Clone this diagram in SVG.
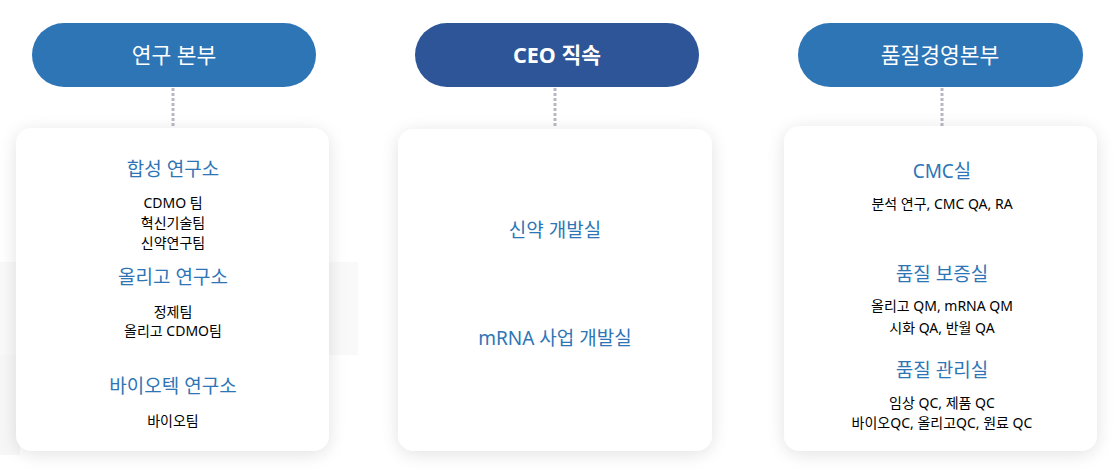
<svg xmlns="http://www.w3.org/2000/svg" width="1120" height="471" viewBox="0 0 1120 471">
<defs>
<filter id="shadow" x="-20%" y="-20%" width="140%" height="140%">
<feGaussianBlur in="SourceAlpha" stdDeviation="9"/>
<feOffset dx="0" dy="3" result="b"/>
<feComponentTransfer><feFuncA type="linear" slope="0.12"/></feComponentTransfer>
<feMerge><feMergeNode/><feMergeNode in="SourceGraphic"/></feMerge>
</filter>
</defs>
<style>
text{font-family:"Noto Sans","Noto Sans CJK KR",sans-serif;text-anchor:middle}
.pill{fill:#2e75b6}
.pill2{fill:#2d5597}
.plabel{fill:#ffffff;font-size:21.5px;font-weight:400}
.card{fill:#ffffff}
.head{fill:#2e75b6;font-size:19px;font-weight:400}
.item{fill:#000000;font-size:14px}
.conn{stroke:#b8b8c4;stroke-width:3;stroke-dasharray:3 2;fill:none}
</style>
<rect x="0" y="0" width="1120" height="471" fill="#ffffff"/>
<rect x="0" y="262" width="358" height="93" fill="#f9f9f9"/>
<rect x="0" y="355" width="20" height="100" fill="#f7f7f7"/>
<g id="connectors">
<line class="conn" x1="173" y1="88" x2="173" y2="128"/>
<line class="conn" x1="555" y1="88" x2="555" y2="128"/>
<line class="conn" x1="942" y1="88" x2="942" y2="126"/>
</g>
<g id="pill-research">
<rect class="pill" x="32" y="23" width="284" height="64" rx="32"/>
<text class="plabel" x="174" y="63">연구 본부</text>
</g>
<g id="pill-ceo">
<rect class="pill2" x="415" y="23" width="284" height="64" rx="32"/>
<text class="plabel" x="557" y="63" style="font-weight:700">CEO 직속</text>
</g>
<g id="pill-quality">
<rect class="pill" x="798" y="23" width="285" height="64" rx="32"/>
<text class="plabel" x="940" y="63">품질경영본부</text>
</g>
<g id="card-research">
<rect class="card" x="16" y="128" width="313" height="323" rx="16" filter="url(#shadow)"/>
<text class="head" x="173" y="176">합성 연구소</text>
<text class="item" x="173" y="208">CDMO 팀</text>
<text class="item" x="173" y="228">혁신기술팀</text>
<text class="item" x="173" y="248">신약연구팀</text>
<text class="head" x="173" y="284">올리고 연구소</text>
<text class="item" x="173" y="317">정제팀</text>
<text class="item" x="173" y="336">올리고 CDMO팀</text>
<text class="head" x="173" y="393">바이오텍 연구소</text>
<text class="item" x="173" y="426">바이오팀</text>
</g>
<g id="card-ceo">
<rect class="card" x="398" y="129" width="314" height="322" rx="16" filter="url(#shadow)"/>
<text class="head" x="555" y="237">신약 개발실</text>
<text class="head" x="555" y="345">mRNA 사업 개발실</text>
</g>
<g id="card-quality">
<rect class="card" x="784" y="126" width="313" height="325" rx="16" filter="url(#shadow)"/>
<text class="head" x="942" y="178">CMC실</text>
<text class="item" x="942" y="209">분석 연구, CMC QA, RA</text>
<text class="head" x="942" y="281">품질 보증실</text>
<text class="item" x="942" y="311">올리고 QM, mRNA QM</text>
<text class="item" x="942" y="333">시화 QA, 반월 QA</text>
<text class="head" x="942" y="377">품질 관리실</text>
<text class="item" x="942" y="408">임상 QC, 제품 QC</text>
<text class="item" x="942" y="428">바이오QC, 올리고QC, 원료 QC</text>
</g>
</svg>
